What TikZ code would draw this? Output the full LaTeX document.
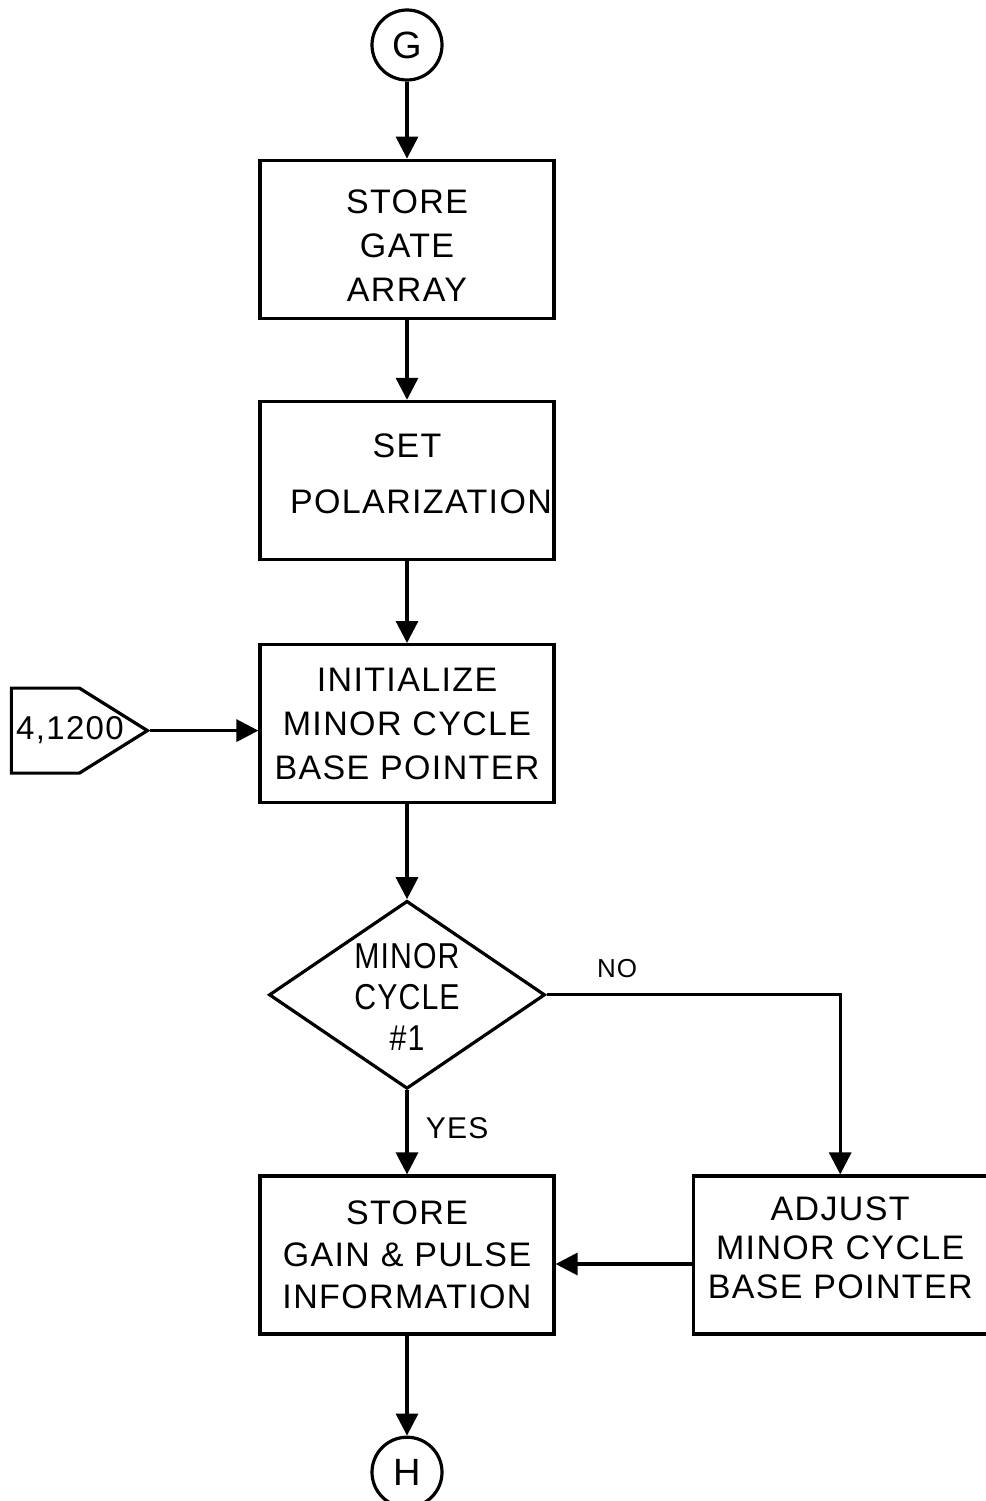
\documentclass[tikz,border=0pt]{standalone}
\usepackage{fontspec}
\setmainfont{Liberation Sans}[LetterSpace=4]
\newfontfamily\tallfont{Liberation Sans}[FakeStretch=0.84, LetterSpace=3]
\usetikzlibrary{arrows.meta,positioning,shapes.geometric,shapes.symbols}

\begin{document}
\begin{tikzpicture}[
    x=1pt, y=-1pt,
    box/.style={
        draw,
        line width=3.2pt,
        align=center,
        font=\fontsize{34}{44}\selectfont,
        minimum width=294pt,
        minimum height=158pt,
        inner sep=0pt
    },
    connector/.style={draw, circle, line width=3.2pt, minimum size=70pt, inner sep=0pt, font=\fontsize{38}{40}\selectfont},
    decision/.style={draw, diamond, line width=3.2pt, minimum width=276pt, minimum height=188pt, inner sep=0pt},
    entry/.style={draw, signal, signal to=east, signal pointer angle=64, line width=3.2pt, minimum width=136pt, minimum height=85pt, inner sep=0pt},
    edge/.style={-{Triangle[length=22pt,width=22pt]}, line width=3.2pt},
    tag/.style={font=\fontsize{30}{36}\selectfont},
    node distance=80pt
]
\useasboundingbox (0,0) rectangle (985,1501);

\node[connector] (G) at (407,45) {G};
\node[box, below=77pt of G] (gate) {\mbox{}\\[-8pt]STORE\\GATE\\ARRAY};
\node[box, below=of gate] (polar) {SET\\[12pt]\hspace*{28pt}POLARIZATION\\[-30pt]\mbox{}};
\node[box, below=82pt of polar] (init) {INITIALIZE\\MINOR CYCLE\\BASE POINTER};
% entry point with its label
\node[entry, left=108pt of init, yshift=-7pt] (start) {};
\node[font=\fontsize{33}{40}\selectfont, inner sep=0pt] (starttext) at (70,730) {4,1200};
\node[decision, below=95pt of init] (minor) {};
\node[font=\tallfont\fontsize{36}{41}\selectfont, align=center, inner sep=0pt] (minortext) at ([yshift=-2pt]minor.center) {MINOR\\CYCLE\\\#1};
\node[box, below=84pt of minor, font=\fontsize{34}{42}\selectfont] (gain) {STORE\\GAIN \& PULSE\\INFORMATION};
\node[box, right=136pt of gain, font=\fontsize{34}{39}\selectfont] (adjust) {ADJUST\\MINOR CYCLE\\BASE POINTER\\[-25pt]\mbox{}};
\node[connector, below=100pt of gain] (H) {H};

\draw[edge] (G) -- (gate);
\draw[edge] (gate) -- (polar);
\draw[edge] (polar) -- (init);
\draw[edge] (start.east) -- (start.east -| init.west);
\draw[edge] (init) -- (minor);
\draw[edge] (minor.east) -| node[tag, pos=0.12, above=12pt, font=\fontsize{26}{30}\selectfont] {NO} (adjust.north);
\draw[edge] (minor.south) -- node[tag, right=14pt, pos=0.45] {YES} (gain.north);
\draw[edge] ([yshift=-9pt]adjust.west) -- ([yshift=-9pt]gain.east);
\draw[edge] (gain) -- (H);
\end{tikzpicture}
\end{document}
